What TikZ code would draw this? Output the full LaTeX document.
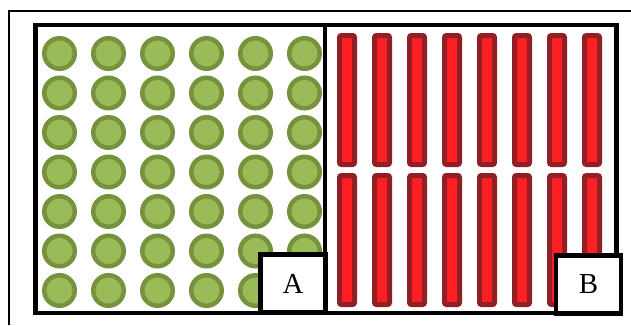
\documentclass[tikz,border=0pt]{standalone}
\usepackage{fontspec}
\setmainfont{Liberation Serif}
\usetikzlibrary{positioning}
\definecolor{leaf}{RGB}{155,187,89}
\definecolor{leafrim}{RGB}{118,146,60}
\definecolor{rod}{RGB}{255,32,36}
\definecolor{rodrim}{RGB}{146,30,38}
\tikzset{
  frame/.style={draw=black,line width=4.5pt},
  dot/.style={circle,draw=leafrim,fill=leaf,line width=4.5pt,
              minimum size=30.5pt,inner sep=0pt},
  rodbox/.style={rectangle,rounded corners=2pt,draw=rodrim,fill=rod,line width=5pt,
                 minimum width=15pt,minimum height=129pt,inner sep=0pt},
  tag/.style={frame,fill=white,minimum width=65pt,minimum height=58pt,inner sep=0pt,
              font=\fontsize{29}{30}\selectfont}
}
\begin{document}
\begin{tikzpicture}[x=1pt,y=-1pt]
  \useasboundingbox (0,0) rectangle (631,325);
  \draw[line width=1.5pt] (631,11) -- (9,11) -- (9,325);
  \draw[frame] (35.5,25) rectangle (616.5,313);
  \draw[frame] (325,25) -- (325,313);
  % left half: dots
  \foreach \i in {0,...,5}
    \foreach \j in {0,...,6}
      \node[dot] (dot-\i-\j) at (59.5+49*\i,53.5+39.5*\j) {};
  % right half: rods
  \foreach \i in {0,...,7} {
    \node[rodbox] (rodtop-\i) at (347+35*\i,100) {};
    \node[rodbox] (rodlow-\i) at (347+35*\i,240) {};
  }
  \node[tag] (tagA) at (293,283.5) {A};
  \node[tag] (tagB) at (588.5,284.5) {B};
\end{tikzpicture}
\end{document}
